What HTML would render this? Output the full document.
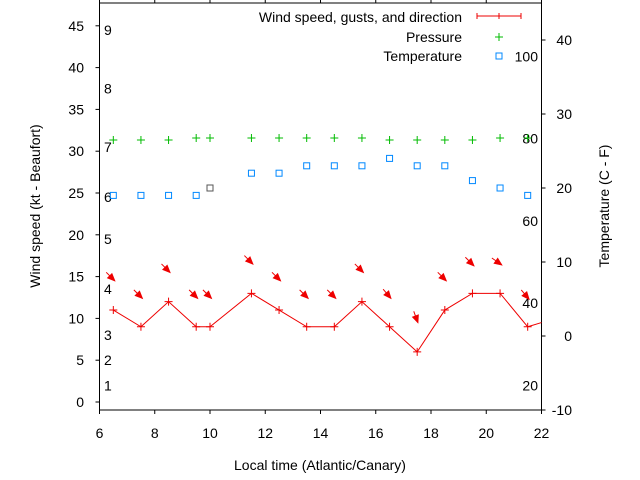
<!DOCTYPE html>
<html><head><meta charset="utf-8"><style>
body{margin:0;background:#fff}
svg{display:block;font-family:"Liberation Sans",sans-serif}
</style></head><body>
<svg id="c" width="640" height="480" viewBox="0 0 640 480">
<g id="axes"></g><g id="marks"></g>
</svg>
<script>
const hours=[6.5,7.5,8.5,9.5,10,11.5,12.5,13.5,14.5,15.5,16.5,17.5,18.5,19.5,20.5,21.5];
const windKt=[11,9,12,9,9,13,11,9,9,12,9,6,11,13,13,9];
const lineEndHour=22, lineEndKt=9.5;
const gustKt=[14.5,12.4,15.5,12.4,12.4,16.5,14.5,12.4,12.4,15.5,12.4,9.5,14.5,16.3,16.4,12.3];
const dirDeg=[315,315,315,315,315,315,315,315,315,315,320,340,315,315,305,320];
const pressure=[1015,1015,1015,1016,1016,1016,1016,1016,1016,1016,1015,1015,1015,1015,1016,1016];
const tempC=[19,19,19,19,20,22,22,23,23,23,24,23,23,21,20,19];
const xTicks=[6,8,10,12,14,16,18,20,22];
const yTicks=[0,5,10,15,20,25,30,35,40,45];
const y2Ticks=[-10,0,10,20,30,40];
const beaufort=[1,2,3,4,5,6,7,8,9];
const beaufortKt=[2,5,8,13.5,19.5,24.5,30.5,37.5,44.5];
const fLabels=[20,40,60,80,100];

const L=99.5,R=541.5,T=3,B=410;
const X=h=>L+(h-6)/16*(R-L);
const Y=k=>402-k*8.36;
const Y2=c=>336-c*7.4;
const YF=f=>Y2((f-32)*5/9);
const YP=p=>140-(p-1015)*2;
const NS='http://www.w3.org/2000/svg';
const ax=document.getElementById('axes'),mk=document.getElementById('marks');
function el(t,a,p,txt){const e=document.createElementNS(NS,t);for(const k in a)e.setAttribute(k,a[k]);if(txt!==undefined)e.textContent=txt;p.appendChild(e);return e;}

let e=el('rect',{x:L,y:T,width:R-L,height:B-T,fill:'none',stroke:'#000','stroke-width':1},ax);


xTicks.forEach(h=>{
  let t=el('line',{x1:X(h),x2:X(h),y1:B,y2:B+4,stroke:'#000'},ax);
  
  
  el('line',{x1:X(h),x2:X(h),y1:T,y2:T-4,stroke:'#000'},ax);
  let l=el('text',{x:X(h),y:438,'text-anchor':'middle','font-size':14},ax,String(h));
  
  
});
yTicks.forEach(k=>{
  let t=el('line',{x1:L-4,x2:L,y1:Y(k),y2:Y(k),stroke:'#000'},ax);
  
  
  let l=el('text',{x:84,y:Y(k)+5,'text-anchor':'end','font-size':14},ax,String(k));
  
  
});
y2Ticks.forEach(c=>{
  let t=el('line',{x1:R,x2:R+4,y1:Y2(c),y2:Y2(c),stroke:'#000'},ax);
  
  
  let l=el('text',{x:572,y:Y2(c)+5,'text-anchor':'end','font-size':14},ax,String(c));
  
  
});
beaufort.forEach((b,i)=>{
  let l=el('text',{x:104,y:Y(beaufortKt[i])+5,'font-size':14},ax,String(b));
  
  
});
fLabels.forEach(f=>{
  let l=el('text',{x:538,y:YF(f)+5,'text-anchor':'end','font-size':14},ax,String(f));
  
  
});
e=el('text',{x:320,y:470,'text-anchor':'middle','font-size':14},ax,'Local time (Atlantic/Canary)');


e=el('text',{x:0,y:0,'text-anchor':'middle','font-size':14,transform:'translate(40,206) rotate(-90)'},ax,'Wind speed (kt - Beaufort)');


e=el('text',{x:0,y:0,'text-anchor':'middle','font-size':14,transform:'translate(609,206) rotate(-90)'},ax,'Temperature (C - F)');



// legend
[['Wind speed, gusts, and direction',17],['Pressure',37],['Temperature',56]].forEach(([s,y])=>{
  let l=el('text',{x:462,y:y+5,'text-anchor':'end','font-size':14},ax,s);
  
  
});
el('path',{d:'M477 16H521M477 13V19M499 13V19M521 13V19',stroke:'#e00',fill:'none'},ax);
el('path',{d:'M495 37H503M499 33V41',stroke:'#0b0',fill:'none'},ax);
el('rect',{x:496,y:53,width:6,height:6,fill:'none',stroke:'#08f'},ax);

// wind line
let pts=hours.map((h,i)=>X(h)+','+Y(windKt[i])).join(' ')+' '+X(lineEndHour)+','+Y(lineEndKt);
e=el('polyline',{points:pts,fill:'none',stroke:'#e00','stroke-width':1},mk);


hours.forEach((h,i)=>{
  const x=X(h),y=Y(windKt[i]);
  let p=el('path',{d:`M${x-4} ${y}H${x+4}M${x} ${y-4}V${y+4}`,stroke:'#e00'},mk);
  
  
  // gust arrow
  const a=(dirDeg[i]+180)*Math.PI/180; const dx=Math.sin(a),dy=-Math.cos(a);
  const hx=x+dx*2,hy=Y(gustKt[i]),tx=hx-dx*12,ty=hy-dy*12;
  const px=-dy,py=dx;
  let ar=el('g',{},mk);
  
  
  el('line',{x1:tx,y1:ty,x2:hx,y2:hy,stroke:'#e00'},ar);
  el('polygon',{points:`${hx},${hy} ${hx-dx*7+px*3},${hy-dy*7+py*3} ${hx-dx*7-px*3},${hy-dy*7-py*3}`,fill:'#e00',stroke:'#e00'},ar);
  // pressure
  const yp=YP(pressure[i]);
  let g=el('path',{d:`M${x-4} ${yp}H${x+4}M${x} ${yp-4}V${yp+4}`,stroke:'#0b0'},mk);
  
  
  // temperature
  let r=el('rect',{x:x-3,y:Y2(tempC[i])-3,width:6,height:6,fill:'none',stroke:(h===10)?'#555':'#08f'},mk);
  
  
});
</script>
</body></html>
